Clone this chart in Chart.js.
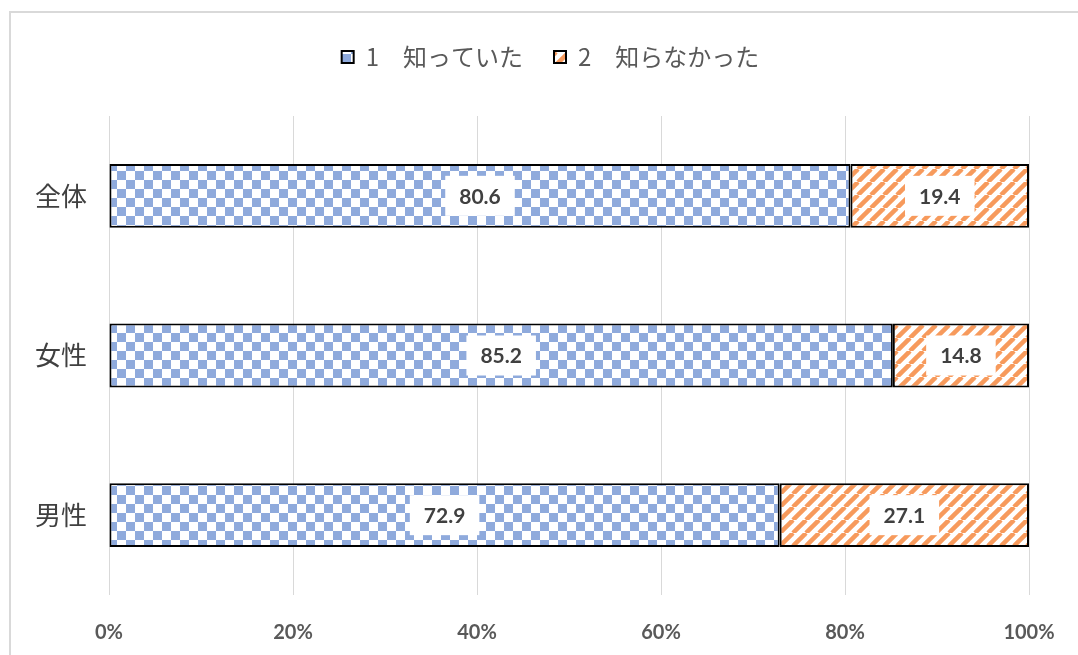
<!DOCTYPE html>
<html>
<head>
<meta charset="utf-8">
<script src="https://cdn.jsdelivr.net/npm/chart.js@4"></script>
<style>
  html, body { margin: 0; padding: 0; background: #fff; }
  .frame { position: absolute; left: 9px; top: 11px; width: 1100px; height: 700px; border: 2px solid #d9d9d9; box-sizing: border-box; }
  .wrap { position: absolute; left: 0; top: 0; width: 1078px; height: 655px; }
</style>
</head>
<body>
<div class="frame"></div>
<div class="wrap"><canvas id="myChart" width="1078" height="655"></canvas></div>
<script>
const categories = ["全体", "女性", "男性"];
const knew = [80.6, 85.2, 72.9];
const didNotKnow = [19.4, 14.8, 27.1];
const seriesNames = ["1　知っていた", "2　知らなかった"];
const xTicks = [0, 20, 40, 60, 80, 100];

const jp = "'Noto Sans CJK JP', 'Noto Sans', sans-serif";
const num = "Lato, 'Open Sans', sans-serif";

// checkerboard pattern for series 1
const makeChecker = () => {
  const c = document.createElement("canvas");
  const s = 9;
  c.width = s * 2;
  c.height = s * 2;
  const g = c.getContext("2d");
  g.fillStyle = "#fff";
  g.fillRect(0, 0, s * 2, s * 2);
  g.fillStyle = "#8faadc";
  g.fillRect(0, 0, s, s);
  g.fillRect(s, s, s, s);
  return g.createPattern(c, "repeat");
};

// diagonal stripes for series 2
const makeHatch = () => {
  const c = document.createElement("canvas");
  const s = 13;
  c.width = s;
  c.height = s;
  const g = c.getContext("2d");
  g.fillStyle = "#fff";
  g.fillRect(0, 0, s, s);
  g.strokeStyle = "#f79a5c";
  g.lineWidth = 4.5;
  [-s, 0, s].forEach((o) => {
    g.beginPath();
    g.moveTo(o, s);
    g.lineTo(o + s, 0);
    g.stroke();
  });
  return g.createPattern(c, "repeat");
};

const checker = makeChecker();
const hatch = makeHatch();

// legend: extra space under it, and shifted right a little
const legendTweak = {
  id: "legendTweak",
  beforeLayout(chart) {
    const lg = chart.legend;
    if (lg && !lg._patched) {
      const fit = lg.fit.bind(lg);
      lg.fit = function () {
        fit();
        this.height += 37;
      };
      const draw = lg.draw.bind(lg);
      lg.draw = function () {
        chart.ctx.save();
        chart.ctx.translate(36, 0);
        draw();
        chart.ctx.restore();
      };
      lg._patched = true;
    }
  },
};

const labelPlugin = {
  id: "boxLabels",
  afterDatasetsDraw(chart) {
    const ctx = chart.ctx;
    ctx.save();
    ctx.font = "bold 21px " + num;
    ctx.textAlign = "center";
    ctx.textBaseline = "middle";
    chart.data.datasets.forEach((ds, i) => {
      chart.getDatasetMeta(i).data.forEach((bar, j) => {
        const txt = ds.data[j].toFixed(1);
        const cx = (bar.x + bar.base) / 2;
        const cy = bar.y;
        const w = ctx.measureText(txt).width + 28;
        const h = 40;
        ctx.fillStyle = "#fff";
        ctx.fillRect(cx - w / 2, cy - h / 2, w, h);
        ctx.fillStyle = "#404040";
        ctx.fillText(txt, cx, cy + 1);
      });
    });
    ctx.restore();
  },
};

const ctx = document.getElementById("myChart");

new Chart(ctx, {
  type: "bar",
  data: {
    labels: categories,
    datasets: [
      {
        label: seriesNames[0],
        data: knew,
        backgroundColor: checker,
        borderColor: "#000",
        borderWidth: 2,
        borderSkipped: false,
        categoryPercentage: 1,
        barPercentage: 0.4,
      },
      {
        label: seriesNames[1],
        data: didNotKnow,
        backgroundColor: hatch,
        borderColor: "#000",
        borderWidth: 2,
        borderSkipped: false,
        categoryPercentage: 1,
        barPercentage: 0.4,
      },
    ],
  },
  options: {
    indexAxis: "y",
    responsive: false,
    animation: false,
    layout: { padding: { top: 14, right: 49, left: 0, bottom: 0 } },
    plugins: {
      tooltip: { enabled: false },
      legend: {
        position: "top",
        labels: {
          boxWidth: 12,
          boxHeight: 12,
          padding: 31,
          color: "#595959",
          font: { size: 24, family: jp },
        },
      },
    },
    scales: {
      x: {
        stacked: true,
        min: 0,
        max: 100,
        afterBuildTicks: (scale) => {
          scale.ticks = xTicks.map((v) => ({ value: v }));
        },
        afterFit: (scale) => {
          scale.height = 60;
          scale.paddingLeft = 0;
          scale.paddingRight = 0;
        },
        grid: { color: "#d9d9d9", lineWidth: 1, drawTicks: false },
        border: { display: false },
        ticks: {
          padding: 26,
          color: "#595959",
          font: { size: 20, weight: "bold", family: num },
          callback: (v) => v + "%",
        },
      },
      y: {
        stacked: true,
        afterFit: (scale) => {
          scale.width = 109;
        },
        grid: { display: false, drawTicks: false },
        border: { display: false },
        ticks: {
          padding: 22,
          color: "#404040",
          font: { size: 26, family: jp },
        },
      },
    },
  },
  plugins: [legendTweak, labelPlugin],
});
</script>
</body>
</html>
